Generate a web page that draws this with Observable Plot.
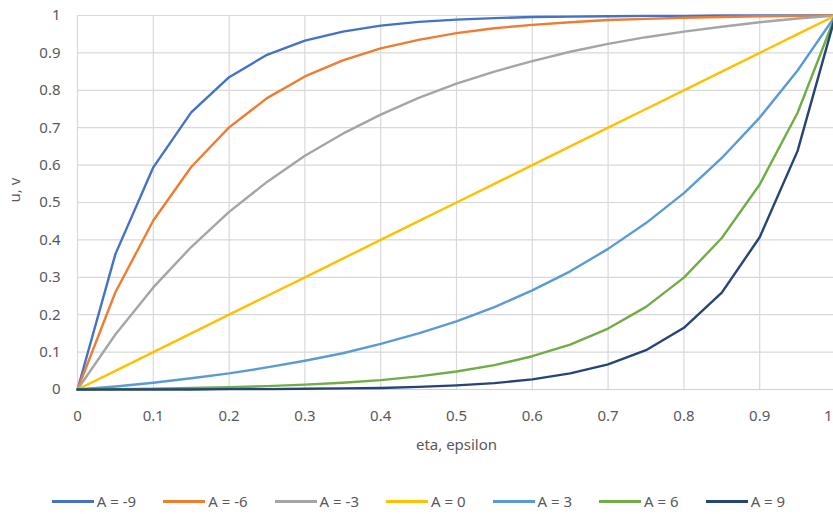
<!DOCTYPE html>
<html>
<head>
<meta charset="utf-8">
<script src="https://cdn.jsdelivr.net/npm/d3@7"></script>
<script src="https://cdn.jsdelivr.net/npm/@observablehq/plot@0.6"></script>
<style>
  html, body { margin: 0; padding: 0; background: #fff; overflow: hidden; }
  body { width: 833px; height: 514px; font-family: "Noto Sans", sans-serif; }
  #chart { width: 840px; }
  #chart svg { display: block; max-width: none !important; }
  #legend { display: flex; justify-content: center; align-items: center; height: 26px; font-size: 15px; color: #595959; margin-left: 4px; }
  .item { display: flex; align-items: center; margin: 0 13.5px; white-space: pre; }
  .sw { width: 42px; height: 3px; margin-right: 3px; }
</style>
</head>
<body>
<div id="chart"></div>
<div id="legend"></div>
<script>
const xs = [0, 0.05, 0.1, 0.15, 0.2, 0.25, 0.3, 0.35, 0.4, 0.45, 0.5, 0.55, 0.6, 0.65, 0.7, 0.75, 0.8, 0.85, 0.9, 0.95, 1];
const seriesNames = ["A = -9", "A = -6", "A = -3", "A = 0", "A = 3", "A = 6", "A = 9"];
const seriesColors = ["#4472C4", "#ED7D31", "#A5A5A5", "#FFC000", "#5B9BD5", "#70AD47", "#264478"];
const aMinus9 = [0, 0.362, 0.594, 0.741, 0.835, 0.895, 0.933, 0.957, 0.973, 0.983, 0.989, 0.993, 0.996, 0.997, 0.998, 0.999, 0.999, 1.0, 1.0, 1.0, 1];
const aMinus6 = [0, 0.260, 0.452, 0.595, 0.701, 0.779, 0.837, 0.880, 0.912, 0.935, 0.953, 0.966, 0.975, 0.982, 0.988, 0.991, 0.994, 0.996, 0.998, 0.999, 1];
const aMinus3 = [0, 0.147, 0.273, 0.381, 0.475, 0.555, 0.625, 0.684, 0.735, 0.780, 0.818, 0.850, 0.878, 0.903, 0.924, 0.942, 0.957, 0.970, 0.982, 0.992, 1];
const aZero   = [0, 0.05, 0.1, 0.15, 0.2, 0.25, 0.3, 0.35, 0.4, 0.45, 0.5, 0.55, 0.6, 0.65, 0.7, 0.75, 0.8, 0.85, 0.9, 0.95, 1];
const aPlus3  = [0, 0.008, 0.018, 0.030, 0.043, 0.059, 0.077, 0.097, 0.122, 0.150, 0.182, 0.220, 0.265, 0.316, 0.376, 0.445, 0.525, 0.619, 0.727, 0.853, 1];
const aPlus6  = [0, 0.001, 0.002, 0.004, 0.006, 0.009, 0.013, 0.018, 0.025, 0.035, 0.048, 0.065, 0.089, 0.120, 0.163, 0.221, 0.299, 0.405, 0.548, 0.740, 1];
const aPlus9  = [0, 0.000, 0.000, 0.000, 0.001, 0.001, 0.002, 0.003, 0.004, 0.007, 0.011, 0.017, 0.027, 0.043, 0.067, 0.105, 0.165, 0.259, 0.407, 0.638, 1];
const xTicks = [0, 0.1, 0.2, 0.3, 0.4, 0.5, 0.6, 0.7, 0.8, 0.9, 1];
const yTicks = [0, 0.1, 0.2, 0.3, 0.4, 0.5, 0.6, 0.7, 0.8, 0.9, 1];
const xTitle = "eta, epsilon";
const yTitle = "u, v";

const allSeries = [aMinus9, aMinus6, aMinus3, aZero, aPlus3, aPlus6, aPlus9];
const rows = [];
allSeries.forEach((vals, i) => vals.forEach((v, j) => rows.push({x: xs[j], y: v, s: seriesNames[i]})));

const textColor = "#595959";
const lastTick = xTicks[xTicks.length - 1];
const chart = Plot.plot({
  width: 840,
  height: 488,
  marginLeft: 77,
  marginRight: 5,
  marginTop: 15,
  marginBottom: 99,
  style: {fontFamily: "Noto Sans, sans-serif", fontSize: "15px", color: textColor, background: "#fff", overflow: "visible", maxWidth: "none"},
  x: {domain: [0, 1]},
  y: {domain: [0, 1]},
  color: {domain: seriesNames, range: seriesColors},
  marks: [
    Plot.gridX(xTicks, {stroke: "#d9d9d9", strokeOpacity: 1, strokeWidth: 1.2}),
    Plot.gridY(yTicks, {stroke: "#d9d9d9", strokeOpacity: 1, strokeWidth: 1.2}),
    Plot.ruleY([0], {stroke: "#d0d0d0", strokeWidth: 1.2}),
    Plot.axisX(xTicks.slice(0, -1), {tickSize: 0, tickPadding: 21, label: null, tickFormat: d => String(d), fill: textColor}),
    Plot.text([lastTick], {x: d => d, frameAnchor: "bottom", dy: 21, lineAnchor: "top", textAnchor: "end", dx: -3, text: d => String(d), fill: textColor, fontSize: 15}),
    Plot.axisY(yTicks, {tickSize: 0, tickPadding: 17, label: null, tickFormat: d => String(d), fill: textColor}),
    Plot.line(rows, {x: "x", y: "y", stroke: "s", z: "s", strokeWidth: 2.4, strokeLinejoin: "round", strokeLinecap: "round"}),
    Plot.text([xTitle], {frameAnchor: "bottom", dy: 60, text: d => d, fill: textColor, fontSize: 15}),
    Plot.text([yTitle], {frameAnchor: "left", dx: -62, rotate: -90, text: d => d, fill: textColor, fontSize: 15})
  ]
});
document.getElementById("chart").appendChild(chart);

const legend = document.getElementById("legend");
seriesNames.forEach((name, i) => {
  const item = document.createElement("div");
  item.className = "item";
  const sw = document.createElement("div");
  sw.className = "sw";
  sw.style.background = seriesColors[i];
  const label = document.createElement("span");
  label.textContent = name;
  item.appendChild(sw);
  item.appendChild(label);
  legend.appendChild(item);
});
</script>
</body>
</html>
